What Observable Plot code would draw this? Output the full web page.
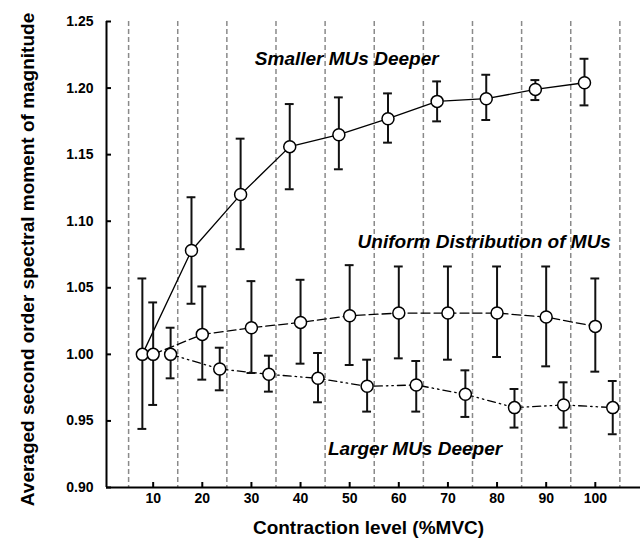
<!DOCTYPE html>
<html>
<head>
<meta charset="utf-8">
<script src="https://cdn.jsdelivr.net/npm/d3@7"></script>
<script src="https://cdn.jsdelivr.net/npm/@observablehq/plot@0.6"></script>
<style>
  html, body { margin: 0; padding: 0; background: #fff; }
  #chart { width: 641px; height: 538px; }
</style>
</head>
<body>
<div id="chart"></div>
<script>
// ---- data ----
const levels = [10, 20, 30, 40, 50, 60, 70, 80, 90, 100];

const smallerMean = [1.000, 1.078, 1.120, 1.156, 1.165, 1.177, 1.190, 1.192, 1.199, 1.204];
const smallerLow  = [0.944, 1.038, 1.079, 1.124, 1.139, 1.159, 1.175, 1.176, 1.191, 1.187];
const smallerHigh = [1.057, 1.118, 1.162, 1.188, 1.193, 1.196, 1.205, 1.210, 1.206, 1.222];

const uniformMean = [1.000, 1.015, 1.020, 1.024, 1.029, 1.031, 1.031, 1.031, 1.028, 1.021];
const uniformLow  = [0.962, 0.981, 0.986, 0.993, 0.992, 0.997, 0.996, 0.998, 0.991, 0.987];
const uniformHigh = [1.039, 1.051, 1.055, 1.056, 1.067, 1.066, 1.066, 1.066, 1.066, 1.057];

const largerMean = [1.000, 0.989, 0.985, 0.982, 0.976, 0.977, 0.970, 0.960, 0.962, 0.960];
const largerLow  = [0.982, 0.973, 0.972, 0.964, 0.957, 0.957, 0.953, 0.945, 0.945, 0.940];
const largerHigh = [1.020, 1.005, 0.999, 1.001, 0.996, 0.995, 0.988, 0.974, 0.979, 0.980];

const seriesNames = ["Smaller MUs Deeper", "Uniform Distribution of MUs", "Larger MUs Deeper"];
const xTicks = [10, 20, 30, 40, 50, 60, 70, 80, 90, 100];
const yTicks = [0.90, 0.95, 1.00, 1.05, 1.10, 1.15, 1.20, 1.25];
const gridLevels = [5, 15, 25, 35, 45, 55, 65, 75, 85, 95, 105];
const xLabel = "Contraction level (%MVC)";
const yLabel = "Averaged second order spectral moment of magnitude";
// annotation anchors (in data units: contraction level, magnitude)
const labelX = [49.4, 77.4, 63.3];
const labelY = [1.217, 1.0796, 0.9242];

// ---- styling ----
const dodge = [-2.2, 0, 3.55];          // horizontal dodge of each series (x units)
const dashes = [null, "9,4", "8,4,1.5,4,1.5,4"];
const capHalf = 0.9;                     // error-bar cap half width (x units)
const font = "'Liberation Sans', Arial, Helvetica, sans-serif";

const means = [smallerMean, uniformMean, largerMean];
const lows = [smallerLow, uniformLow, largerLow];
const highs = [smallerHigh, uniformHigh, largerHigh];

const series = seriesNames.map((name, s) =>
  levels.map((l, i) => ({series: name, x: l + dodge[s], mean: means[s][i], lo: lows[s][i], hi: highs[s][i]}))
);
const all = series.flat();
const labels = seriesNames.map((t, i) => ({text: t, x: labelX[i], y: labelY[i]}));

const chart = Plot.plot({
  width: 641,
  height: 538,
  marginLeft: 106,
  marginRight: 1,
  marginTop: 21,
  marginBottom: 51,
  style: {fontFamily: font, fontSize: "14px", fontWeight: "bold", background: "#fff", color: "#000"},
  x: {domain: [0.5, 109.2]},
  y: {domain: [0.9, 1.25]},
  marks: [
    Plot.ruleX(gridLevels, {stroke: "#8a8a8a", strokeWidth: 1.5, strokeDasharray: "5,3"}),
    ...series.map((rows, s) => Plot.line(rows, {x: "x", y: "mean", stroke: "#000", strokeWidth: 1.3, strokeDasharray: dashes[s]})),
    Plot.ruleX(all, {x: "x", y1: "lo", y2: "hi", stroke: "#111", strokeWidth: 2}),
    Plot.ruleY(all, {y: "hi", x1: d => d.x - capHalf, x2: d => d.x + capHalf, stroke: "#111", strokeWidth: 2}),
    Plot.ruleY(all, {y: "lo", x1: d => d.x - capHalf, x2: d => d.x + capHalf, stroke: "#111", strokeWidth: 2}),
    Plot.dot(all, {x: "x", y: "mean", r: 6, fill: "#fff", stroke: "#000", strokeWidth: 1.5}),
    Plot.ruleY([0.9], {stroke: "#000", strokeWidth: 2}),
    Plot.ruleX([0.5], {stroke: "#000", strokeWidth: 2}),
    Plot.axisX(xTicks, {tickSize: -5, tickPadding: 11, strokeWidth: 2, fontSize: 14, fontWeight: "bold", label: null}),
    Plot.axisY(yTicks, {tickSize: -5, tickPadding: 18, strokeWidth: 2, fontSize: 14, fontWeight: "bold", tickFormat: d3.format(".2f"), label: null}),
    Plot.text(labels, {x: "x", y: "y", text: "text", textAnchor: "middle", lineAnchor: "bottom", fontSize: 19, fontWeight: "bold", fontStyle: "italic", fill: "#000"}),
    Plot.text([xLabel], {frameAnchor: "bottom", text: d => d, textAnchor: "middle", dx: -5, dy: 46, lineAnchor: "bottom", fontSize: 19, fontWeight: "bold", fill: "#000"}),
    Plot.text([yLabel], {frameAnchor: "left", text: d => d, textAnchor: "middle", dx: -79, dy: 5, rotate: -90, lineAnchor: "middle", fontSize: 19, fontWeight: "bold", fill: "#000"})
  ]
});
document.getElementById("chart").append(chart);
</script>
</body>
</html>
